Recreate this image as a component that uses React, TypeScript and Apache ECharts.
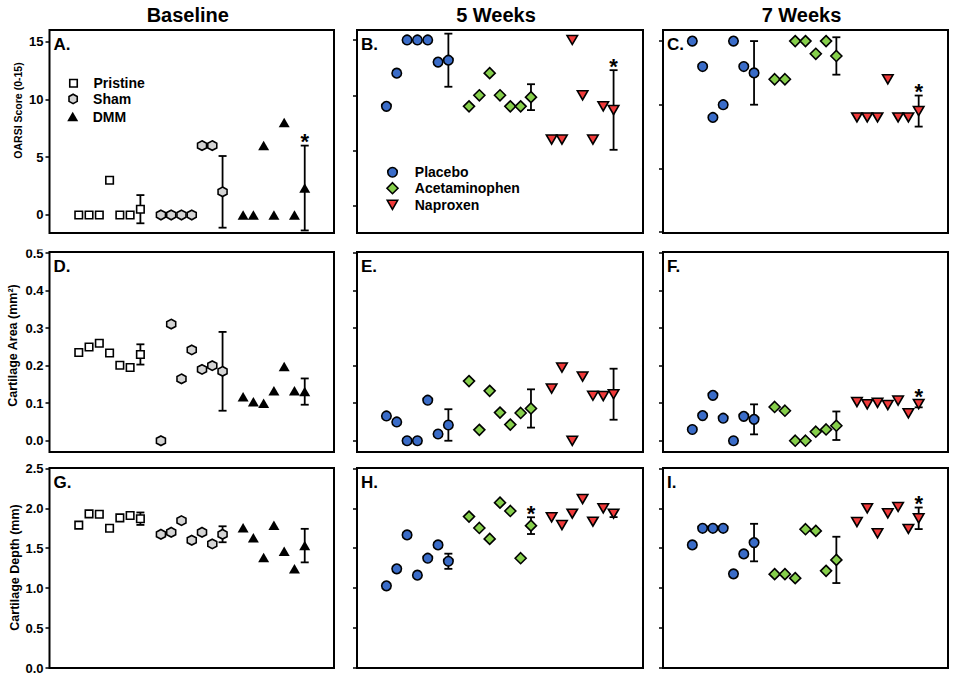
import React, { useEffect, useRef } from 'react';
import * as echarts from 'echarts';

// ---------- texts ----------
const COLUMN_TITLES = ['Baseline', '5 Weeks', '7 Weeks'];
const ROW_TITLES = ['OARSI Score (0-15)', 'Cartilage Area (mm\u00B2)', 'Cartilage Depth (mm)'];
const PANEL_LETTERS = ['A.', 'B.', 'C.', 'D.', 'E.', 'F.', 'G.', 'H.', 'I.'];
const BASELINE_GROUPS = ['Pristine', 'Sham', 'DMM'];
const TREATMENT_GROUPS = ['Placebo', 'Acetaminophen', 'Naproxen'];

// ---------- category positions (animal slots) ----------
const GROUP_X = [
  [1, 2, 3, 4, 5, 6],
  [9, 10, 11, 12, 13, 14],
  [17, 18, 19, 20, 21, 22],
];
const MEAN_X = [7, 15, 23];

// ---------- tick values ----------
const OARSI_TICKS = [0, 5, 10, 15];
const AREA_TICKS = [0, 0.1, 0.2, 0.3, 0.4, 0.5];
const DEPTH_TICKS = [0, 0.5, 1, 1.5, 2, 2.5];

// ---------- A. OARSI, baseline ----------
const A_PRISTINE = [0, 0, 0, 3, 0, 0];
const A_SHAM = [0, 0, 0, 0, 6, 6];
const A_DMM = [0, 0, 6, 0, 8, 0];
const A_MEAN = [0.5, 2.0, 2.33];
const A_SD = [1.22, 3.1, 3.67];
const A_STAR = [0, 0, 1];

// ---------- B. OARSI, 5 weeks ----------
const B_PLACEBO = [9, 12, 15, 15, 15, 13];
const B_ACET = [9, 10, 12, 10, 9, 9];
const B_NAPROXEN = [6, 6, 15, 10, 6, 9];
const B_MEAN = [13.17, 9.83, 8.67];
const B_SD = [2.4, 1.17, 3.6];
const B_STAR = [0, 0, 1];

// ---------- C. OARSI, 7 weeks ----------
const C_PLACEBO = [15, 13, 9, 10, 15, 13];
const C_ACET = [12, 12, 15, 15, 14, 15];
const C_NAPROXEN = [9, 9, 9, 12, 9, 9];
const C_MEAN = [12.5, 13.83, 9.5];
const C_SD = [2.5, 1.47, 1.22];
const C_STAR = [0, 0, 1];

// ---------- D. Cartilage area, baseline ----------
const D_PRISTINE = [0.235, 0.25, 0.26, 0.234, 0.201, 0.195];
const D_SHAM = [0.0, 0.311, 0.165, 0.242, 0.19, 0.2];
const D_DMM = [0.117, 0.104, 0.1, 0.133, 0.198, 0.133];
const D_MEAN = [0.23, 0.185, 0.131];
const D_SD = [0.027, 0.105, 0.035];
const D_STAR = [0, 0, 0];

// ---------- E. Cartilage area, 5 weeks ----------
const E_PLACEBO = [0.066, 0.05, 0.0, 0.0, 0.108, 0.018];
const E_ACET = [0.159, 0.029, 0.133, 0.075, 0.043, 0.074];
const E_NAPROXEN = [0.139, 0.195, 0.0, 0.171, 0.12, 0.119];
const E_MEAN = [0.042, 0.086, 0.124];
const E_SD = [0.042, 0.051, 0.068];
const E_STAR = [0, 0, 0];

// ---------- F. Cartilage area, 7 weeks ----------
const F_PLACEBO = [0.03, 0.067, 0.121, 0.06, 0.0, 0.065];
const F_ACET = [0.09, 0.08, 0.0, 0.0, 0.024, 0.03];
const F_NAPROXEN = [0.103, 0.097, 0.101, 0.095, 0.107, 0.073];
const F_MEAN = [0.057, 0.04, 0.098];
const F_SD = [0.04, 0.038, 0.009];
const F_STAR = [0, 0, 1];

// ---------- G. Cartilage depth, baseline ----------
const G_PRISTINE = [1.79, 1.93, 1.925, 1.75, 1.88, 1.91];
const G_SHAM = [1.675, 1.7, 1.846, 1.6, 1.7, 1.554];
const G_DMM = [1.758, 1.63, 1.383, 1.788, 1.463, 1.242];
const G_MEAN = [1.87, 1.675, 1.533];
const G_SD = [0.078, 0.1, 0.21];
const G_STAR = [0, 0, 0];

// ---------- H. Cartilage depth, 5 weeks ----------
const H_PLACEBO = [1.029, 1.242, 1.667, 1.163, 1.375, 1.542];
const H_ACET = [1.896, 1.754, 1.617, 2.071, 1.967, 1.375];
const H_NAPROXEN = [1.887, 1.79, 1.933, 2.117, 1.833, 2.0];
const H_MEAN = [1.337, 1.783, 1.933];
const H_SD = [0.095, 0.105, 0.043];
const H_STAR = [0, 1, 0];

// ---------- I. Cartilage depth, 7 weeks ----------
const I_PLACEBO = [1.542, 1.75, 1.75, 1.75, 1.179, 1.429];
const I_ACET = [1.175, 1.175, 1.125, 1.738, 1.717, 1.217];
const I_NAPROXEN = [1.829, 2.0, 1.688, 1.938, 2.017, 1.742];
const I_MEAN = [1.571, 1.354, 1.875];
const I_SD = [0.235, 0.29, 0.135];
const I_STAR = [0, 0, 1];

// ---------- axis ranges ----------
const Y_RANGE_A = [-1.56, 16.0];
const Y_RANGE_B = [-2.45, 15.9];
const Y_RANGE_C = [-0.08, 15.87];
const Y_RANGE_AREA = [-0.03, 0.503];
const Y_RANGE_DEPTH = [0, 2.505];
const X_RANGE = [-1.85, 25.85];

// ---------- layout ----------
const COL_LEFT = [49.5, 357, 663];
const COL_WIDTH = [284.5, 286, 285];
const ROW_TOP = [30, 252, 468];
const ROW_HEIGHT = [203, 200, 200];
const FONT = '"Liberation Sans", Arial, Helvetica, sans-serif';

// ---------- styles ----------
const HEXAGON = 'path://M5,0 L9.33,2.5 L9.33,7.5 L5,10 L0.67,7.5 L0.67,2.5 Z';
const DOWN_TRIANGLE = 'path://M0,0 L10,0 L5,8.66 Z';
const GROUP_STYLE: Record<string, any> = {
  Pristine: { symbol: 'rect', symbolSize: 7.5, itemStyle: { color: '#ffffff', borderColor: '#000', borderWidth: 1.6, opacity: 1 } },
  Sham: { symbol: HEXAGON, symbolSize: [9, 9.5], itemStyle: { color: '#d4d4d4', borderColor: '#000', borderWidth: 1.6, opacity: 1 } },
  DMM: { symbol: 'triangle', symbolSize: [11, 9.5], itemStyle: { color: '#000', borderColor: '#000', borderWidth: 0, opacity: 1 } },
  Placebo: { symbol: 'circle', symbolSize: 9.5, itemStyle: { color: '#3a6cc8', borderColor: '#000', borderWidth: 1.6, opacity: 1 } },
  Acetaminophen: { symbol: 'diamond', symbolSize: 11, itemStyle: { color: '#86cf4b', borderColor: '#000', borderWidth: 1.6, opacity: 1 } },
  Naproxen: { symbol: DOWN_TRIANGLE, symbolSize: [10.5, 9], itemStyle: { color: '#f03a3a', borderColor: '#000', borderWidth: 1.6, opacity: 1 } },
};

const PANELS = [
  { row: 0, col: 0, groups: BASELINE_GROUPS, values: [A_PRISTINE, A_SHAM, A_DMM], mean: A_MEAN, sd: A_SD, star: A_STAR, yr: Y_RANGE_A, ticks: OARSI_TICKS },
  { row: 0, col: 1, groups: TREATMENT_GROUPS, values: [B_PLACEBO, B_ACET, B_NAPROXEN], mean: B_MEAN, sd: B_SD, star: B_STAR, yr: Y_RANGE_B, ticks: OARSI_TICKS },
  { row: 0, col: 2, groups: TREATMENT_GROUPS, values: [C_PLACEBO, C_ACET, C_NAPROXEN], mean: C_MEAN, sd: C_SD, star: C_STAR, yr: Y_RANGE_C, ticks: OARSI_TICKS },
  { row: 1, col: 0, groups: BASELINE_GROUPS, values: [D_PRISTINE, D_SHAM, D_DMM], mean: D_MEAN, sd: D_SD, star: D_STAR, yr: Y_RANGE_AREA, ticks: AREA_TICKS },
  { row: 1, col: 1, groups: TREATMENT_GROUPS, values: [E_PLACEBO, E_ACET, E_NAPROXEN], mean: E_MEAN, sd: E_SD, star: E_STAR, yr: Y_RANGE_AREA, ticks: AREA_TICKS },
  { row: 1, col: 2, groups: TREATMENT_GROUPS, values: [F_PLACEBO, F_ACET, F_NAPROXEN], mean: F_MEAN, sd: F_SD, star: F_STAR, yr: Y_RANGE_AREA, ticks: AREA_TICKS },
  { row: 2, col: 0, groups: BASELINE_GROUPS, values: [G_PRISTINE, G_SHAM, G_DMM], mean: G_MEAN, sd: G_SD, star: G_STAR, yr: Y_RANGE_DEPTH, ticks: DEPTH_TICKS },
  { row: 2, col: 1, groups: TREATMENT_GROUPS, values: [H_PLACEBO, H_ACET, H_NAPROXEN], mean: H_MEAN, sd: H_SD, star: H_STAR, yr: Y_RANGE_DEPTH, ticks: DEPTH_TICKS },
  { row: 2, col: 2, groups: TREATMENT_GROUPS, values: [I_PLACEBO, I_ACET, I_NAPROXEN], mean: I_MEAN, sd: I_SD, star: I_STAR, yr: Y_RANGE_DEPTH, ticks: DEPTH_TICKS },
];

// legend placement: [name, iconCenterX, iconCenterY, textStartX]
const LEGEND_ITEMS: [string, number, number, number][] = [
  ['Pristine', 72.7, 80, 92.7],
  ['Sham', 72.7, 96.7, 92.7],
  ['DMM', 72.7, 114.3, 92.7],
  ['Placebo', 391.7, 170, 414],
  ['Acetaminophen', 391.7, 186.7, 414],
  ['Naproxen', 391.7, 202.3, 414],
];

function buildOption() {
  const grid: any[] = [];
  const xAxis: any[] = [];
  const yAxis: any[] = [];
  const series: any[] = [];
  const graphic: any[] = [];

  PANELS.forEach((p, i) => {
    const left = COL_LEFT[p.col];
    const top = ROW_TOP[p.row];
    grid.push({
      left, top, width: COL_WIDTH[p.col], height: ROW_HEIGHT[p.row],
      show: true, borderColor: '#000', borderWidth: 2, backgroundColor: 'transparent', containLabel: false,
    });
    xAxis.push({ gridIndex: i, type: 'value', min: X_RANGE[0], max: X_RANGE[1], show: false });
    const decimals = p.row === 0 ? 0 : 1;
    yAxis.push({
      gridIndex: i, type: 'value', min: p.yr[0], max: p.yr[1], position: 'left',
      axisLine: { show: false, onZero: false },
      splitLine: { show: false },
      axisTick: { show: true, inside: false, length: 4, lineStyle: { color: '#000', width: 1.5 }, customValues: p.ticks },
      axisLabel: {
        show: p.col === 0, customValues: p.ticks, margin: 6,
        formatter: (v: number) => v.toFixed(decimals),
        color: '#000', fontWeight: 'bold', fontSize: 13, fontFamily: FONT,
      },
    });

    p.groups.forEach((g, gi) => {
      const st = GROUP_STYLE[g];
      const data = p.values[gi].map((v, k) => [GROUP_X[gi][k], v]);
      data.push([MEAN_X[gi], p.mean[gi]]);
      series.push({
        type: 'scatter', name: g, xAxisIndex: i, yAxisIndex: i, data,
        symbol: st.symbol, symbolSize: st.symbolSize, itemStyle: st.itemStyle,
        clip: true, z: 3, silent: true,
      });
    });

    series.push({
      type: 'custom', xAxisIndex: i, yAxisIndex: i, clip: true, z: 2, silent: true,
      data: p.mean.map((m, gi) => [MEAN_X[gi], m - p.sd[gi], m + p.sd[gi], p.star[gi]]),
      renderItem: (params: any, api: any) => {
        const x = api.value(0);
        const lo = api.coord([x, api.value(1)]);
        const hi = api.coord([x, api.value(2)]);
        const ls = { stroke: '#000', lineWidth: 1.8 };
        const children: any[] = [
          { type: 'line', shape: { x1: lo[0], y1: lo[1], x2: hi[0], y2: hi[1] }, style: ls },
          { type: 'line', shape: { x1: lo[0] - 4, y1: lo[1], x2: lo[0] + 4, y2: lo[1] }, style: ls },
          { type: 'line', shape: { x1: hi[0] - 4, y1: hi[1], x2: hi[0] + 4, y2: hi[1] }, style: ls },
        ];
        if (api.value(3)) {
          children.push({
            type: 'text', x: hi[0], y: hi[1] - 4,
            style: { text: '*', fontSize: 22, fontWeight: 'bold', fontFamily: FONT, fill: '#000', textAlign: 'center', textVerticalAlign: 'middle' },
          });
        }
        return { type: 'group', children };
      },
    });

    graphic.push({
      type: 'text', left: left + 4, top: top + 6, z: 10,
      style: { text: PANEL_LETTERS[i], fontSize: 17, fontWeight: 'bold', fontFamily: FONT, fill: '#000' },
    });
  });

  // column titles
  COLUMN_TITLES.forEach((t, c) => {
    graphic.push({
      type: 'text', x: COL_LEFT[c] + COL_WIDTH[c] / 2 - 4, y: 15, z: 10,
      style: { text: t, fontSize: 20, fontWeight: 'bold', fontFamily: FONT, fill: '#000', textAlign: 'center', textVerticalAlign: 'middle' },
    });
  });

  // row (y axis) titles
  const rowTitleX = [17.5, 13, 15];
  const rowTitleY = [110.5, 345.5, 567.5];
  const rowTitleSize = [10.5, 12.5, 12.5];
  ROW_TITLES.forEach((t, r) => {
    graphic.push({
      type: 'text', x: rowTitleX[r], y: rowTitleY[r], rotation: Math.PI / 2, z: 10,
      style: { text: t, fontSize: rowTitleSize[r], fontWeight: 'bold', fontFamily: FONT, fill: '#000', textAlign: 'center', textVerticalAlign: 'middle' },
    });
  });

  // the top of "0.5" is hidden in the reference
  graphic.push({ type: 'rect', shape: { x: 20, y: 238, width: 27, height: 11.5 }, style: { fill: '#fff' }, z: 100 });

  const legend = LEGEND_ITEMS.map(([name, cx, cy, tx]) => {
    const st = GROUP_STYLE[name];
    const size = Array.isArray(st.symbolSize) ? st.symbolSize : [st.symbolSize, st.symbolSize];
    return {
      data: [name], orient: 'vertical', selectedMode: false, padding: 0,
      left: cx - size[0] / 2, top: cy - size[1] / 2,
      itemWidth: size[0], itemHeight: size[1],
      itemStyle: { color: st.itemStyle.color, borderColor: st.itemStyle.borderColor, borderWidth: st.itemStyle.borderWidth, opacity: 1 },
      textStyle: { fontSize: 14, fontWeight: 'bold', fontFamily: FONT, color: '#000', padding: [0, 0, 0, tx - (cx + size[0] / 2 + 5)] },
    };
  });

  return {
    animation: false,
    backgroundColor: '#fff',
    textStyle: { fontFamily: FONT },
    grid, xAxis, yAxis, series, graphic, legend,
  };
}

export default function App() {
  const ref = useRef<HTMLDivElement>(null);
  useEffect(() => {
    document.body.style.margin = '0';
    if (!ref.current) return;
    const chart = echarts.init(ref.current, undefined, { renderer: 'svg' });
    chart.setOption(buildOption() as any);
    return () => chart.dispose();
  }, []);
  return <div ref={ref} style={{ width: 955, height: 678 }} />;
}
